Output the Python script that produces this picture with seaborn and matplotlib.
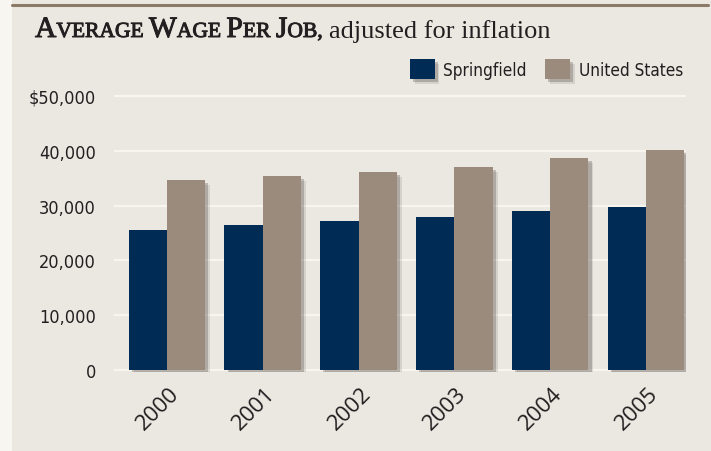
import pandas as pd
import matplotlib
matplotlib.use('Agg')
import matplotlib.pyplot as plt
import matplotlib.patheffects as pe
import matplotlib.transforms as mtransforms
from matplotlib.patches import Rectangle
import seaborn as sns

# data
years = ['2000', '2001', '2002', '2003', '2004', '2005']
springfield = [25500, 26400, 27150, 27850, 28950, 29700]
united_states = [34600, 35350, 36100, 37000, 38650, 40100]
series_names = ['Springfield', 'United States']
y_ticks = [0, 10000, 20000, 30000, 40000, 50000]
y_tick_labels = ['0', '10,000', '20,000', '30,000', '40,000', '$50,000']

df = pd.DataFrame({
    'Year': years * 2,
    'Wage': springfield + united_states,
    'Area': [series_names[0]] * len(years) + [series_names[1]] * len(years),
})

navy = '#002b54'
taupe = '#9a8b7d'
panel = '#ebe7e1'
grid_col = '#f8f5ee'
text_col = '#231f20'

sns.set_style('white')
plt.rcParams['font.family'] = ['DejaVu Sans']

fig = plt.figure(figsize=(7.11, 4.52), dpi=100)
fig.patch.set_facecolor('#f8f6f1')
fig.patches.append(Rectangle((12 / 711, 0), 1, 1, transform=fig.transFigure,
                             facecolor=panel, edgecolor='none', zorder=-10))
fig.add_artist(plt.Line2D([12 / 711, 708 / 711], [1 - 5.5 / 452, 1 - 5.5 / 452],
                          transform=fig.transFigure, color='#8b7a66', lw=2.2))

ax = fig.add_axes([114 / 711, 79.4 / 452, 572 / 711, 278.9 / 452])
ax.set_facecolor('none')
sns.barplot(data=df, x='Year', y='Wage', hue='Area', order=years,
            hue_order=series_names, palette=[navy, taupe], width=0.8,
            saturation=1, ax=ax, zorder=3)

shadow = [pe.SimplePatchShadow(offset=(3.5, -3.5), shadow_rgbFace='#3a332c', alpha=0.12),
          pe.SimplePatchShadow(offset=(2.2, -2.2), shadow_rgbFace='#3a332c', alpha=0.25),
          pe.Normal()]
for p in ax.patches:
    p.set_path_effects(shadow)
    p.set_edgecolor('none')

ax.set_xlim(-0.553, 5.418)
ax.set_ylim(-300, 50600)
ax.set_yticks(y_ticks)
ax.set_yticklabels(y_tick_labels, fontsize=13, fontstretch='condensed', color=text_col)
ax.tick_params(axis='y', length=0, pad=13)
ax.tick_params(axis='x', length=0, pad=13)
ax.yaxis.grid(True, color=grid_col, lw=1.6, zorder=0)
ax.set_axisbelow(True)
for s in ax.spines.values():
    s.set_visible(False)
ax.set_xlabel('')
ax.set_ylabel('')

offset = mtransforms.ScaledTranslation(9 / 100, 0, fig.dpi_scale_trans)
for lab in ax.get_xticklabels():
    lab.set_rotation(45)
    lab.set_ha('right')
    lab.set_va('center')
    lab.set_rotation_mode('anchor')
    lab.set_fontfamily(['Open Sans', 'DejaVu Sans'])
    lab.set_fontsize(16)
    lab.set_color(text_col)
    lab.set_transform(lab.get_transform() + offset)

handles, labels = ax.get_legend_handles_labels()
ax.get_legend().remove()
leg = fig.legend(handles, labels, loc='upper right', bbox_to_anchor=(683 / 711, 1 - 60 / 452),
                 ncol=2, frameon=False, prop={'size': 12.3, 'stretch': 'condensed'},
                 handlelength=1.45, handleheight=1.45,
                 handletextpad=0.5, columnspacing=1.1, borderaxespad=0, borderpad=0)
for t in leg.get_texts():
    t.set_color(text_col)
for h in leg.legend_handles:
    h.set_path_effects(shadow)

# title in small caps, built piece by piece
serif = ['Liberation Serif', 'DejaVu Serif']
big, small = 21.3, 15.5
pieces = [('A', big, 1), ('VERAGE', small, 1), (' ', small, 1),
          ('W', big, 1), ('AGE', small, 1), (' ', small, 1),
          ('P', big, 1), ('ER', small, 1), (' ', small, 1),
          ('J', big, 1), ('OB,', small, 1), (' ', 19, 0),
          ('adjusted for inflation', 19, 0)]
semibold = [pe.withStroke(linewidth=0.7, foreground=text_col)]
x = 35
base_y = 1 - 38 / 452
renderer = fig.canvas.get_renderer()
for txt, size, heavy in pieces:
    if txt == ' ':
        x += size * 0.25 * 100 / 72
        continue
    t = fig.text(x / 711, base_y, txt, fontsize=size, family=serif,
                 color=text_col, va='baseline', ha='left')
    if heavy:
        t.set_path_effects(semibold)
    bb = t.get_window_extent(renderer=renderer)
    x += bb.width

fig.savefig('out.png', dpi=100, facecolor=fig.get_facecolor())
